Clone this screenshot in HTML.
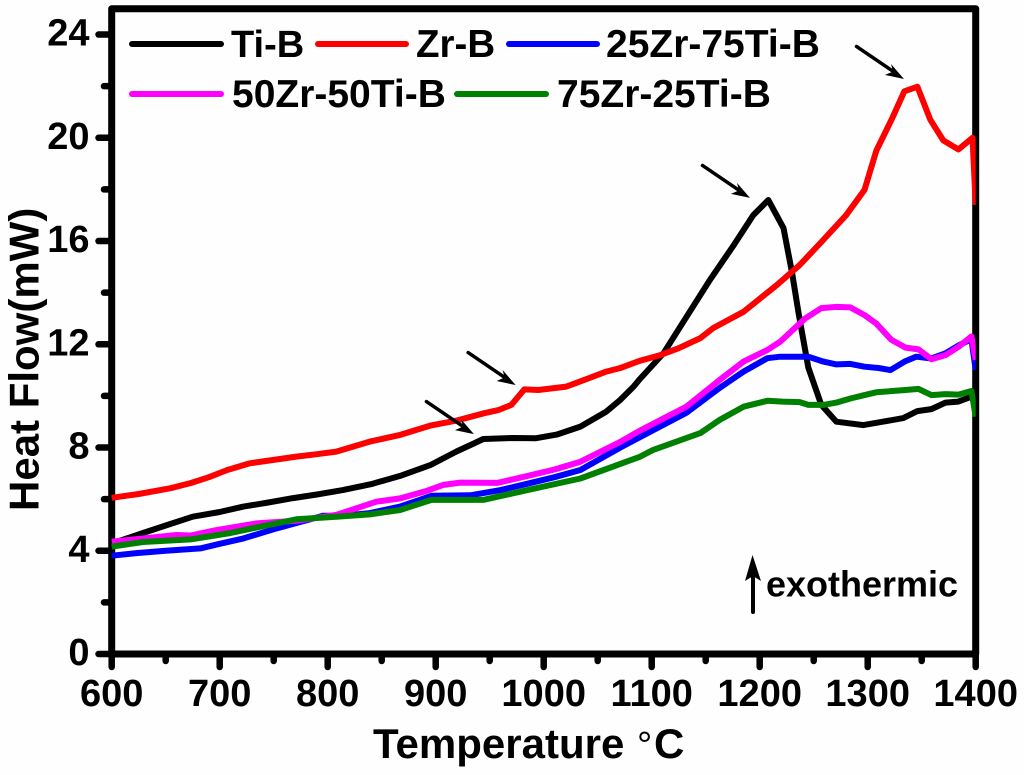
<!DOCTYPE html>
<html lang="en">
<head>
<meta charset="utf-8">
<title>Heat Flow vs Temperature</title>
<style>
html,body{margin:0;padding:0;background:#fefefe;}
svg{display:block;}
text{font-family:"Liberation Sans",Arial,sans-serif;font-weight:bold;fill:#000;}
</style>
</head>
<body>
<svg id="chart" width="1024" height="775" viewBox="0 0 1024 775" xmlns="http://www.w3.org/2000/svg">
  <defs>
    <clipPath id="plot-clip"><rect x="110" y="0" width="865.7" height="660"/></clipPath>
  </defs>
  <rect x="0" y="0" width="1024" height="775" fill="#fefefe"/>
  <g id="axes"></g>
  <g id="series" clip-path="url(#plot-clip)"></g>
  <g id="annotations"></g>

  <text x="373" y="758" font-size="42">Temperature<tspan x="637" font-weight="normal" font-size="38">°</tspan><tspan x="654">C</tspan></text>
  <text transform="translate(38.5,511) rotate(-90)" font-size="42">Heat Flow(mW)</text>

  <g>
    <g>
      <line x1="132" y1="44" x2="221" y2="44" stroke="#000" stroke-width="6" stroke-linecap="round"/>
      <text x="231" y="57" font-size="38">Ti-B</text>
    </g>
    <g>
      <line x1="318" y1="44" x2="406" y2="44" stroke="#ff0000" stroke-width="6" stroke-linecap="round"/>
      <text x="416" y="57" font-size="38.5">Zr-B</text>
    </g>
    <g>
      <line x1="509" y1="44" x2="597" y2="44" stroke="#0000ff" stroke-width="6" stroke-linecap="round"/>
      <text x="606" y="57" font-size="39">25Zr-75Ti-B</text>
    </g>
    <g>
      <line x1="132" y1="94" x2="221" y2="94" stroke="#ff00ff" stroke-width="6" stroke-linecap="round"/>
      <text x="232" y="107" font-size="39">50Zr-50Ti-B</text>
    </g>
    <g>
      <line x1="457" y1="94" x2="546" y2="94" stroke="#008000" stroke-width="6" stroke-linecap="round"/>
      <text x="557" y="107" font-size="39">75Zr-25Ti-B</text>
    </g>
  </g>

  <g>
    <line x1="753" y1="612" x2="753" y2="572" stroke="#000" stroke-width="4" stroke-linecap="round"/>
    <path d="M752.5 555 L761 581 L753 576 L745 581 Z" fill="#000"/>
    <text x="766" y="596.5" font-size="36">exothermic</text>
  </g>
</svg>
<script>
const xTickLabels = [600, 700, 800, 900, 1000, 1100, 1200, 1300, 1400];
const xMinorTicks = [650, 750, 850, 950, 1050, 1150, 1250, 1350];
const yTickLabels = [0, 4, 8, 12, 16, 20, 24];
const yMinorTicks = [2, 6, 10, 14, 18, 22];

const tiTemps = [600,629,650,675,700,722,745,768,790,814,840,867,895,919,935,944,972,993,1012,1034,1058,1071,1083,1089,1111,1132,1154,1175,1194,1208,1222,1230,1236,1245,1257,1271,1296,1314,1333,1346,1359,1372,1384,1396,1400];
const tiValues = [4.28,4.69,4.98,5.32,5.5,5.71,5.87,6.04,6.18,6.35,6.58,6.9,7.32,7.84,8.15,8.33,8.37,8.36,8.5,8.81,9.39,9.85,10.35,10.65,11.66,13.05,14.5,15.78,17.0,17.59,16.5,14.76,13.2,11.1,9.65,9.0,8.87,9.0,9.14,9.41,9.49,9.74,9.78,9.97,9.6];

const zrTemps = [600,625,654,673,690,707,728,750,771,790,808,839,867,895,920,945,958,970,982,995,1021,1040,1058,1071,1089,1108,1125,1145,1157,1185,1216,1237,1258,1280,1297,1308,1322,1334,1346,1358,1370,1384,1397,1400];
const zrValues = [6.05,6.2,6.42,6.62,6.85,7.13,7.39,7.52,7.65,7.74,7.84,8.23,8.49,8.85,9.05,9.33,9.45,9.65,10.25,10.23,10.36,10.66,10.94,11.08,11.36,11.58,11.85,12.24,12.63,13.26,14.3,15.07,16.0,17.0,17.98,19.5,20.7,21.8,21.98,20.7,19.9,19.55,20.0,17.4];

const z25Temps = [600,623,650,682,700,722,753,775,796,814,839,867,896,932,960,985,1010,1034,1071,1089,1132,1163,1185,1207,1219,1245,1259,1271,1284,1297,1310,1321,1335,1345,1359,1372,1384,1396,1400];
const z25Values = [3.81,3.91,4.0,4.09,4.27,4.48,4.87,5.12,5.36,5.36,5.46,5.71,6.13,6.15,6.35,6.6,6.85,7.13,8.0,8.4,9.34,10.31,10.94,11.46,11.52,11.52,11.33,11.22,11.24,11.13,11.08,11.0,11.35,11.52,11.45,11.65,11.95,12.2,11.0];

const z50Temps = [600,630,660,673,697,734,771,808,845,867,890,907,923,957,985,1010,1034,1071,1089,1132,1163,1185,1207,1219,1242,1257,1271,1284,1297,1308,1322,1335,1347,1359,1372,1384,1396,1400];
const z50Values = [4.35,4.48,4.61,4.59,4.8,5.06,5.16,5.39,5.9,6.03,6.3,6.55,6.64,6.63,6.9,7.15,7.45,8.22,8.65,9.58,10.62,11.33,11.78,12.1,13.0,13.4,13.45,13.43,13.13,12.8,12.17,11.87,11.8,11.42,11.58,11.9,12.3,11.4];

const z75Temps = [600,629,673,710,737,771,808,839,867,896,944,985,1034,1089,1101,1145,1163,1185,1207,1221,1237,1245,1259,1271,1284,1297,1308,1335,1347,1359,1372,1384,1396,1400];
const z75Values = [4.16,4.34,4.44,4.69,4.93,5.22,5.32,5.41,5.58,5.97,5.97,6.35,6.8,7.64,7.9,8.56,9.07,9.58,9.81,9.78,9.76,9.65,9.65,9.74,9.9,10.03,10.14,10.23,10.27,10.03,10.07,10.05,10.19,9.2];

const arrowTipTemps = [935.4, 974, 1191, 1333.6];
const arrowTipValues = [8.52, 10.42, 17.67, 22.28];

const NS = 'http://www.w3.org/2000/svg';
function xScale(t) { return 111.7 + (t - 600) * 1.08; }
function yScale(v) { return 654 - v * 25.81; }
function make(tag, parent, attrs) {
  const el = document.createElementNS(NS, tag);
  for (const k in attrs) el.setAttribute(k, attrs[k]);
  parent.appendChild(el);
  return el;
}

const axes = document.getElementById('axes');
const frame = make('rect', axes, {x: xScale(600), y: yScale(25), width: xScale(1400) - xScale(600), height: yScale(0) - yScale(25), fill: 'none', stroke: '#000', 'stroke-width': 7, 'stroke-linejoin': 'round'});



xTickLabels.forEach(function (t) {
  const tick = make('line', axes, {x1: xScale(t), y1: yScale(0), x2: xScale(t), y2: 667, stroke: '#000', 'stroke-width': 6.5, 'stroke-linecap': 'round'});
  
  
  const label = make('text', axes, {x: xScale(t), y: 706, 'text-anchor': 'middle', 'font-size': 38});
  
  
  label.textContent = t;
});
xMinorTicks.forEach(function (t) {
  const tick = make('line', axes, {x1: xScale(t), y1: yScale(0), x2: xScale(t), y2: 661, stroke: '#000', 'stroke-width': 6.5, 'stroke-linecap': 'round'});
  
  
});
yTickLabels.forEach(function (v) {
  const tick = make('line', axes, {x1: xScale(600), y1: yScale(v), x2: 98.5, y2: yScale(v), stroke: '#000', 'stroke-width': 6.5, 'stroke-linecap': 'round'});
  
  
  const label = make('text', axes, {x: 89.5, y: yScale(v) + 11, 'text-anchor': 'end', 'font-size': 38});
  
  
  label.textContent = v;
});
yMinorTicks.forEach(function (v) {
  const tick = make('line', axes, {x1: xScale(600), y1: yScale(v), x2: 104, y2: yScale(v), stroke: '#000', 'stroke-width': 6.5, 'stroke-linecap': 'round'});
  
  
});

const seriesGroup = document.getElementById('series');
function drawLine(temps, values, color) {
  const pts = temps.map(function (t, i) { return xScale(t).toFixed(1) + ',' + yScale(values[i]).toFixed(1); }).join(' ');
  return make('polyline', seriesGroup, {points: pts, fill: 'none', stroke: color, 'stroke-width': 6, 'stroke-linejoin': 'round'});
}
const lineTi = drawLine(tiTemps, tiValues, '#000000');


const lineZr = drawLine(zrTemps, zrValues, '#ff0000');


const lineZ25 = drawLine(z25Temps, z25Values, '#0000ff');


const lineZ50 = drawLine(z50Temps, z50Values, '#ff00ff');


const lineZ75 = drawLine(z75Temps, z75Values, '#008000');



const annotations = document.getElementById('annotations');
arrowTipTemps.forEach(function (t, i) {
  const tx = xScale(t), ty = yScale(arrowTipValues[i]);
  const shaft = make('line', annotations, {x1: tx - 47.5, y1: ty - 32.5, x2: tx - 10, y2: ty - 7, stroke: '#000', 'stroke-width': 3.5, 'stroke-linecap': 'round'});
  
  
  const head = make('polygon', annotations, {points: tx + ',' + ty + ' ' + (tx - 13) + ',' + (ty - 15) + ' ' + (tx - 11) + ',' + (ty - 7.5) + ' ' + (tx - 19) + ',' + (ty - 4), fill: '#000'});
  
  
});
</script>
</body>
</html>
